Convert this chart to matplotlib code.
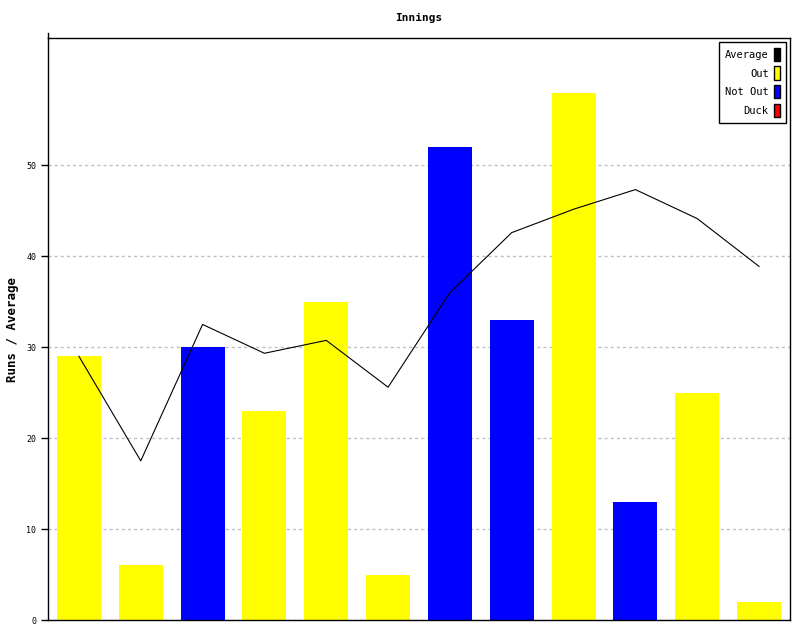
import matplotlib
matplotlib.use('Agg')
import matplotlib.pyplot as plt
from matplotlib.patches import Patch

# innings data
runs = [29, 6, 30, 23, 35, 5, 52, 33, 58, 13, 25, 2]
status = ['Out', 'Out', 'Not Out', 'Out', 'Out', 'Out',
          'Not Out', 'Not Out', 'Out', 'Not Out', 'Out', 'Out']
average = [29, 17.5, 32.5, 29.33, 30.75, 25.6, 36, 42.6, 45.17, 47.33, 44.14, 38.88]

colors = {'Out': '#ffff00', 'Not Out': '#0000ff', 'Duck': '#ff0000'}

plt.rcParams['font.family'] = 'DejaVu Sans Mono'

fig = plt.figure(figsize=(8, 6.4), dpi=100)
ax = fig.add_axes([0.06, 0.03125, 0.9275, 0.909375])

x = list(range(len(runs)))
ax.bar(x, runs, width=0.71, color=[colors[s] for s in status], zorder=2)
ax.plot(x, average, color='black', linewidth=0.8, zorder=3)

ax.set_xlim(-0.5, len(runs) - 0.5)
ax.set_ylim(0, 64)
ax.set_yticks([0, 10, 20, 30, 40, 50])
ax.tick_params(axis='y', labelsize=6, length=5, width=1, direction='out')
ax.set_xticks([])
ax.yaxis.grid(True, linestyle=(0, (2.2, 2.2)), color='#c0c0c0', linewidth=1, zorder=1)
ax.set_axisbelow(True)
for sp in ax.spines.values():
    sp.set_linewidth(1)
# left axis sticks out a bit above the frame
ax.plot([0, 0], [1.0, 1.009], transform=ax.transAxes, color='black', lw=1, clip_on=False)

ax.set_title('Innings', fontsize=8, fontweight='bold', pad=12)
ax.set_ylabel('Runs / Average', fontsize=9, fontweight='bold')
ax.yaxis.set_label_coords(-0.039, 0.5)

handles = [Patch(facecolor='black', edgecolor='black', label='Average'),
           Patch(facecolor=colors['Out'], edgecolor='black', label='Out'),
           Patch(facecolor=colors['Not Out'], edgecolor='black', label='Not Out'),
           Patch(facecolor=colors['Duck'], edgecolor='black', label='Duck')]
leg = ax.legend(handles=handles, loc='upper right', markerfirst=False, fontsize=7.5,
                handlelength=0.6, handleheight=1.6, handletextpad=0.5,
                labelspacing=0.5, borderpad=0.55, fancybox=False, framealpha=1,
                edgecolor='black', borderaxespad=0.4)
leg.get_frame().set_linewidth(1)
for t in leg.get_texts():
    t.set_ha('right')

fig.savefig('out.png')
